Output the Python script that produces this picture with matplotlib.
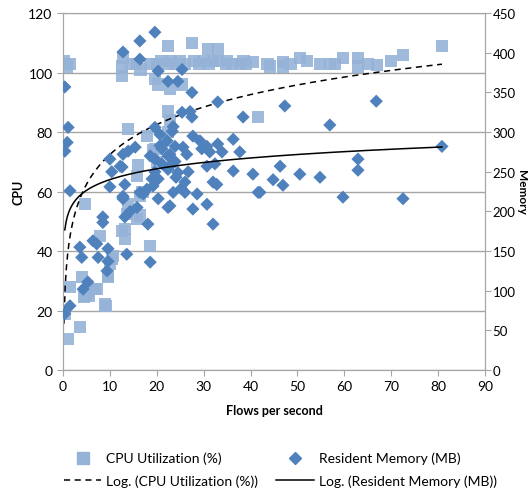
import numpy as np
import matplotlib.pyplot as plt
from matplotlib.lines import Line2D

plt.rcParams['font.family'] = ['Lato', 'DejaVu Sans']

# CPU Utilization (%) samples: flows per second, cpu
cpu_x = [0.2, 0.4, 1.5, 0.8, 12.6, 12.6, 12.8, 14.5, 15.8, 16.5, 18.6,
         22.4, 22.4, 23.0, 27.5, 30.9, 33.0, 33.0, 34.8, 37.7, 40.5, 43.6, 44.1,
         46.9, 46.9, 50.5, 54.8, 56.9, 59.7, 62.9, 62.9, 67.0, 72.5, 80.8,
         20.0, 21.0, 24.0, 25.0, 26.0, 28.0, 29.0, 30.0, 31.0, 32.0, 35.0, 36.0,
         38.5, 39.0, 48.5, 52.0, 58.0, 65.0, 70.0,
         19.6, 20.3, 22.8, 25.4, 22.4, 22.8, 13.9, 17.9, 19.2, 16.0, 20.0, 22.4,
         41.6, 19.6, 16.4,
         0.4, 1.5, 1.1, 3.6, 4.7, 4.0, 4.7, 7.2, 5.3, 7.9, 9.0, 9.6, 10.0, 10.7,
         12.6, 13.2, 13.9, 13.6, 15.8, 16.4, 18.6, 17.0, 15.8, 13.2, 5.5, 9.2,
         6.8, 4.5, 9.6, 10.4]
cpu_y = [104, 103, 103, 102, 102, 98.8, 105, 103, 103, 101, 103,
         109, 103, 104, 110, 108, 108, 104, 103, 103, 103.5, 103, 102,
         103.5, 102, 105, 103, 103, 105, 105, 102, 102.5, 106, 109,
         103, 104, 103, 104, 103, 104, 103, 104, 103, 104, 104, 103,
         104, 103, 103, 104, 103, 103, 104,
         97.8, 96, 94.5, 96, 87, 84, 81, 78.7, 74, 69, 70, 80,
         85, 74.3, 58.5,
         18.8, 27.9, 10.4, 14.5, 55.8, 31.3, 24.9, 27.2, 26, 45, 22, 31.3, 35.6, 38.3,
         46.7, 44, 55.8, 52.4, 50.8, 52, 41.7, 59.8, 65.2, 47.4, 25, 21.5,
         27.2, 24.5, 31.6, 37.3]

# Resident Memory (MB) samples: flows per second, memory
mem_x = [0.4, 1.1, 0.9, 0.4, 1.5, 0.4, 1.5,
         12.8, 16.4, 16.4, 19.6, 20.3, 22.4, 24.5, 25.4, 27.5, 33.0, 27.1, 27.5,
         38.4, 19.6, 23.5, 23.3, 20.7, 25.4,
         10.0, 10.4, 10.0, 12.6, 12.8, 13.9, 15.4, 13.2, 18.6, 19.6, 22.2, 22.8,
         22.8, 21.1, 23.9, 25.6, 26.4, 26.7, 26.0, 27.7, 29.2, 29.6, 30.7, 31.3,
         33.0, 33.9, 30.7, 32.4, 32.0, 32.8, 36.3, 36.3, 37.7, 40.5, 42.0, 26.0,
         23.5, 28.6, 12.8, 16.4, 17.9, 19.2, 20.3, 19.6,
         47.3, 56.9, 66.8, 80.8, 62.9, 62.9, 46.3, 50.5, 44.8, 46.9, 54.8, 59.7,
         72.5, 41.6,
         3.6, 4.0, 4.3, 5.3, 6.4, 7.2, 7.5, 8.5, 8.5, 9.4, 9.6, 9.6, 13.2, 13.6,
         12.8, 14.3, 15.8, 18.1, 18.6, 20.3, 22.4, 27.7, 30.7, 32.0, 22.8, 12.2,
         12.8, 17.1, 19.0, 22.4, 24.1, 25.2, 24.5, 23.9, 20.7, 21.1, 22.4]
mem_y = [357, 306, 287, 276, 226, 71, 81,
         401, 415, 392, 426, 377, 364, 364, 379, 350, 338, 326, 319,
         319, 306, 307, 301, 297, 325,
         266, 250, 231, 256, 272, 276, 281, 234, 270, 266, 289, 272,
         257, 260, 282, 281, 272, 250, 237, 295, 289, 279, 282, 275,
         285, 275, 257, 260, 237, 234, 291, 251, 275, 247, 224, 224,
         224, 222, 219, 224, 228, 232, 241, 250,
         333, 309, 339, 282, 266, 252, 257, 247, 240, 233, 243, 218,
         216, 224,
         155, 142, 102, 111, 163, 159, 142, 193, 186, 125, 137, 153, 193, 146,
         218, 200, 205, 184, 136, 216, 205, 203, 209, 184, 207, 257,
         216, 222, 241, 253, 243, 229, 249, 263, 283, 279, 270]

sq_color = '#95B3D7'
dia_color = '#4F81BD'
grid_color = '#A6A6A6'

fig = plt.figure(figsize=(5.29, 4.89), dpi=100)
ax = fig.add_axes([0.119, 0.2413, 0.798, 0.7297])
ax2 = ax.twinx()

ax.scatter(cpu_x, cpu_y, marker='s', s=80, color=sq_color, alpha=0.9,
           edgecolors='none', zorder=3)
ax2.scatter(mem_x, mem_y, marker='D', s=45, color=dia_color,
            edgecolors='none', zorder=3)

# logarithmic trendlines, fitted like Excel does
xs = np.linspace(min(cpu_x), max(cpu_x), 300)
a, b = np.polyfit(np.log(cpu_x), cpu_y, 1)
ax.plot(xs, a * np.log(xs) + b, color='black', ls=(0, (4, 3)), lw=1.1, zorder=4)
xm = np.linspace(min(mem_x), max(mem_x), 300)
c, d = np.polyfit(np.log(mem_x), mem_y, 1)
ax2.plot(xm, c * np.log(xm) + d, color='black', lw=1.1, zorder=4)

ax.set_xlim(0, 90)
ax.set_ylim(0, 120)
ax2.set_ylim(0, 450)
ax.set_xticks(range(0, 91, 10))
ax.set_yticks(range(0, 121, 20))
ax2.set_yticks(range(0, 451, 50))
ax.yaxis.grid(True, color=grid_color, lw=1)
ax.set_axisbelow(True)

for a_ in (ax, ax2):
    for s in a_.spines.values():
        s.set_color(grid_color)
    a_.tick_params(colors=grid_color, labelcolor='black', labelsize=10,
                   direction='out', length=4)
ax2.tick_params(axis='y', pad=1.5, labelsize=9.5)

ax.set_xlabel('Flows per second', fontsize=9, fontweight='bold', labelpad=8)
ax.set_ylabel('CPU', fontsize=9, fontweight='bold', labelpad=3)
ax2.set_ylabel('Memory', fontsize=8.5, fontweight='bold', rotation=270,
               va='center', ha='center')
ax2.yaxis.set_label_coords(1.086, 0.5)

handles = [
    Line2D([], [], ls='none', marker='s', ms=9, color=sq_color),
    Line2D([], [], color='black', ls=(0, (4, 3)), lw=1.1),
    Line2D([], [], ls='none', marker='D', ms=6, color=dia_color),
    Line2D([], [], color='black', lw=1.1),
]
labels = ['CPU Utilization (%)', 'Log. (CPU Utilization (%))',
          'Resident Memory (MB)', 'Log. (Resident Memory (MB))']
fig.legend(handles, labels, ncol=2, loc='upper center', bbox_to_anchor=(0.53, 0.088),
           frameon=False, fontsize=10, handlelength=2.7, handletextpad=0.35,
           columnspacing=1.3, labelspacing=0.7, borderpad=0)

fig.savefig('out.png', dpi=100)
